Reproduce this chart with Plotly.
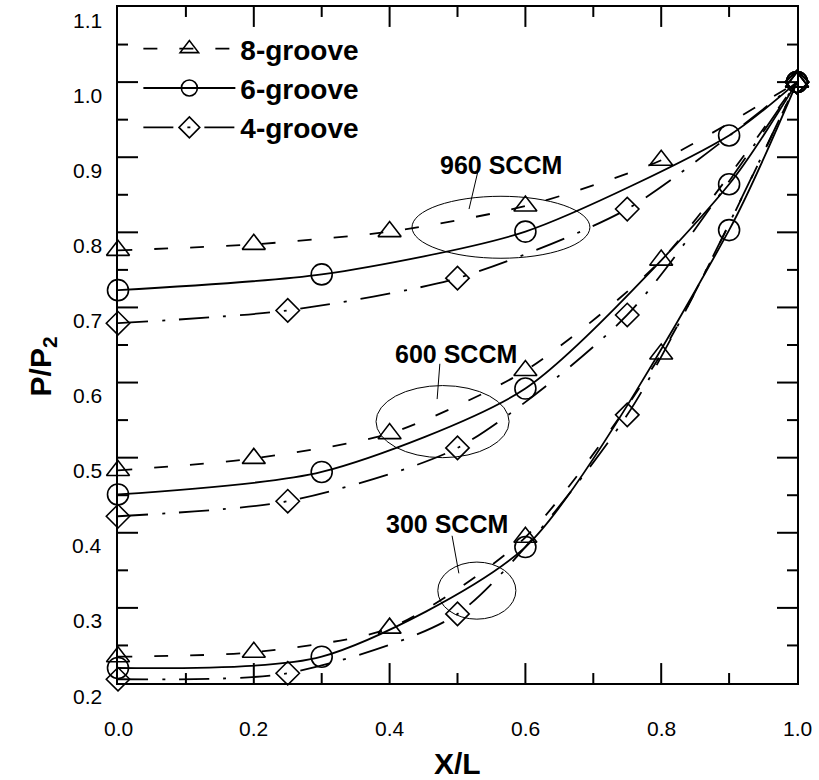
import plotly.graph_objects as go

# ---- data ----
x8 = [0.0, 0.2, 0.4, 0.6, 0.8, 1.0]
x6 = [0.0, 0.3, 0.6, 0.9, 1.0]
x4 = [0.0, 0.25, 0.5, 0.75, 1.0]

y8_960 = [0.776, 0.784, 0.801, 0.835, 0.896, 1.0]
y6_960 = [0.723, 0.744, 0.801, 0.929, 1.0]
y4_960 = [0.679, 0.696, 0.739, 0.831, 1.0]

y8_600 = [0.483, 0.499, 0.532, 0.616, 0.763, 1.0]
y6_600 = [0.451, 0.481, 0.592, 0.864, 1.0]
y4_600 = [0.422, 0.442, 0.513, 0.690, 1.0]

y8_300 = [0.235, 0.241, 0.273, 0.394, 0.638, 1.0]
y6_300 = [0.220, 0.235, 0.381, 0.803, 1.0]
y4_300 = [0.205, 0.213, 0.292, 0.557, 1.0]

series_names = ["8-groove", "6-groove", "4-groove"]
flow_labels = ["960 SCCM", "600 SCCM", "300 SCCM"]
x_tick_vals = [0.0, 0.2, 0.4, 0.6, 0.8, 1.0]
x_tick_text = ["0.0", "0.2", "0.4", "0.6", "0.8", "1.0"]
y_tick_vals = [0.2, 0.3, 0.4, 0.5, 0.6, 0.7, 0.8, 0.9, 1.0, 1.1]
y_tick_text = ["0.2", "0.3", "0.4", "0.5", "0.6", "0.7", "0.8", "0.9", "1.0", "1.1"]

FONT = "Liberation Sans, Arial, sans-serif"
W, H = 819, 780
ML, MR, MT, MB = 118, 22, 5, 97
XR = [x_tick_vals[0], x_tick_vals[-1]]
YR = [y_tick_vals[0], y_tick_vals[-1]]

styles = {
    "8-groove": dict(symbol="triangle-up-open", size=20, dash="14px,22px"),
    "6-groove": dict(symbol="circle-open", size=21, dash="solid"),
    "4-groove": dict(symbol="diamond-open", size=18, dash="30px,14px,3px,14px"),
}

fig = go.Figure()

# ---- tick marks on all four sides, drawn as one line trace (inward) ----
px_x = (XR[1] - XR[0]) / (W - ML - MR)   # data units per pixel, x
px_y = (YR[1] - YR[0]) / (H - MT - MB)   # data units per pixel, y
x_minor_vals = [(a + b) / 2 for a, b in zip(x_tick_vals[:-1], x_tick_vals[1:])]
y_minor_vals = [(a + b) / 2 for a, b in zip(y_tick_vals[:-1], y_tick_vals[1:])]
tx, ty = [], []
for vals, L in ((x_tick_vals[1:-1], 20), (x_minor_vals, 10)):
    for v in vals:
        tx += [v, v, None, v, v, None]
        ty += [YR[0], YR[0] + L * px_y, None, YR[1], YR[1] - L * px_y, None]
for vals, L in ((y_tick_vals[1:-1], 20), (y_minor_vals, 10)):
    for v in vals:
        tx += [XR[0], XR[0] + L * px_x, None, XR[1], XR[1] - L * px_x, None]
        ty += [v, v, None, v, v, None]
fig.add_trace(go.Scatter(x=tx, y=ty, mode="lines", line=dict(color="black", width=2),
                         showlegend=False, hoverinfo="skip", connectgaps=False))

groups = [
    ("8-groove", x8, [y8_960, y8_600, y8_300]),
    ("6-groove", x6, [y6_960, y6_600, y6_300]),
    ("4-groove", x4, [y4_960, y4_600, y4_300]),
]

for name, xs, ylist in groups:
    st = styles[name]
    for i, ys in enumerate(ylist):
        fig.add_trace(go.Scatter(
            x=xs, y=ys, mode="lines+markers", name=name,
            legendgroup=name, showlegend=(i == 0),
            line=dict(color="black", width=1.8, dash=st["dash"], shape="spline", smoothing=0.7),
            marker=dict(symbol=st["symbol"], size=st["size"], color="black",
                        line=dict(color="black", width=1.6)),
            cliponaxis=False,
        ))

ellipses = [
    (0.433, 0.695, 0.7655, 0.848),
    (0.380, 0.576, 0.500, 0.596),
    (0.471, 0.586, 0.285, 0.361),
]
leaders = [
    (0.530, 0.881, 0.517, 0.831),
    (0.474, 0.625, 0.470, 0.578),
    (0.492, 0.396, 0.502, 0.346),
]
label_pos = [(0.564, 0.890), (0.498, 0.638), (0.485, 0.412)]

for (x0, x1, y0, y1) in ellipses:
    fig.add_shape(type="circle", xref="x", yref="y", x0=x0, x1=x1, y0=y0, y1=y1,
                  line=dict(color="black", width=1))
for (ax, ay, bx, by) in leaders:
    fig.add_shape(type="line", xref="x", yref="y", x0=ax, y0=ay, x1=bx, y1=by,
                  line=dict(color="black", width=1))
for txt, (lx, ly) in zip(flow_labels, label_pos):
    fig.add_annotation(x=lx, y=ly, xref="x", yref="y", text="<b>%s</b>" % txt,
                       showarrow=False, font=dict(family=FONT, size=25, color="black"))

# tick labels (placed as text, following the reference's offsets)
for v, t in zip(x_tick_vals, x_tick_text):
    fig.add_annotation(x=v, xref="x", y=0, yref="paper", yanchor="top", yshift=-32,
                       text=t, showarrow=False, font=dict(family=FONT, size=21, color="black"))
for v, t in zip(y_tick_vals, y_tick_text):
    fig.add_annotation(x=0, xref="paper", xanchor="right", xshift=-14, y=v, yref="y",
                       yshift=-13, text=t, showarrow=False,
                       font=dict(family=FONT, size=21, color="black"))

# axis titles
fig.add_annotation(x=0.5, xref="paper", y=0, yref="paper", yanchor="middle", yshift=-80,
                   text="<b>X/L</b>", showarrow=False,
                   font=dict(family=FONT, size=30, color="black"))
fig.add_annotation(x=-0.141, y=0.468, xref="paper", yref="paper",
                   text="<b>P/P<sub>2</sub></b>", textangle=-90, showarrow=False,
                   font=dict(family=FONT, size=30, color="black"))

axis_common = dict(
    showline=True, linecolor="black", linewidth=2, mirror=True,
    ticks="", showgrid=False, zeroline=False, showticklabels=False,
)

fig.update_xaxes(range=XR, **axis_common)
fig.update_yaxes(range=YR, **axis_common)

fig.update_layout(
    width=W, height=H,
    margin=dict(l=ML, r=MR, t=MT, b=MB),
    paper_bgcolor="white", plot_bgcolor="white",
    font=dict(family=FONT, color="black"),
    showlegend=True,
    legend=dict(x=0.03, y=0.975, xanchor="left", yanchor="top",
                bgcolor="rgba(0,0,0,0)", itemwidth=92,
                font=dict(family=FONT, size=28, color="black", weight="bold"),
                tracegroupgap=0),
)

fig.write_html("out.html")
